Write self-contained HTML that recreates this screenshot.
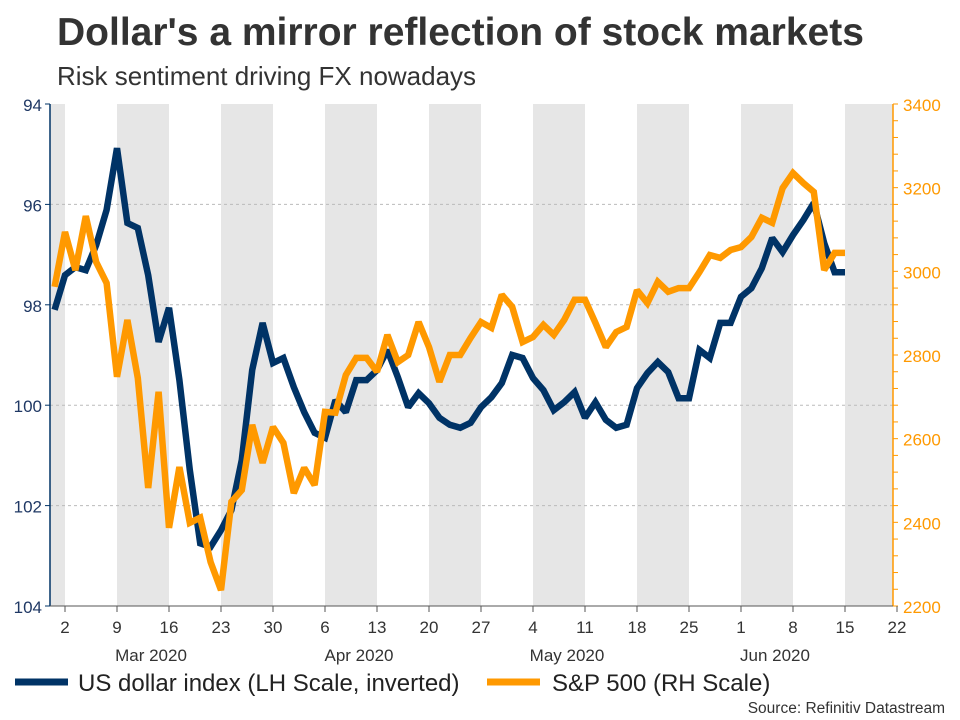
<!DOCTYPE html>
<html><head><meta charset="utf-8"><style>
body{margin:0;background:#fff;font-family:"Liberation Sans",Arial,sans-serif;}
svg{display:block}
</style></head><body>
<svg id="c" width="960" height="720" xmlns="http://www.w3.org/2000/svg">
<text x="57" y="45" font-size="39" font-weight="bold" fill="#333">Dollar's a mirror reflection of stock markets</text>
<text x="57" y="85" font-size="26" fill="#333">Risk sentiment driving FX nowadays</text>
<g id="bands"></g><g id="grid"></g><g id="axes"></g><g id="series"></g>
<g>
<line x1="15" y1="682" x2="68" y2="682" stroke="#003366" stroke-width="7"/>
<text x="78" y="691" font-size="24" fill="#222">US dollar index (LH Scale, inverted)</text>
<line x1="487" y1="682" x2="540" y2="682" stroke="#ff9900" stroke-width="7"/>
<text x="552" y="691" font-size="24" fill="#222">S&amp;P 500 (RH Scale)</text>
</g>
<text x="945" y="713" font-size="15.5" fill="#333" text-anchor="end">Source: Refinitiv Datastream</text>
</svg>
<script>
const usd=[98.10,97.41,97.25,97.31,96.81,96.11,94.88,96.37,96.47,97.41,98.74,98.06,99.50,101.29,102.75,102.82,102.49,102.09,101.09,99.30,98.36,99.16,99.06,99.64,100.14,100.55,100.65,99.90,100.14,99.50,99.50,99.30,98.90,99.44,100.04,99.76,99.96,100.25,100.39,100.45,100.35,100.04,99.84,99.56,99.00,99.06,99.46,99.70,100.10,99.94,99.74,100.25,99.94,100.29,100.45,100.39,99.66,99.36,99.14,99.34,99.86,99.86,98.90,99.06,98.36,98.36,97.84,97.67,97.27,96.67,96.95,96.61,96.31,95.97,96.77,97.35,97.35];
const sp=[2963,3094,3003,3132,3022,2972,2748,2884,2745,2482,2712,2387,2532,2399,2411,2305,2238,2449,2477,2633,2542,2628,2590,2470,2530,2489,2664,2662,2752,2793,2793,2760,2848,2783,2800,2879,2819,2736,2800,2800,2841,2879,2865,2944,2915,2831,2843,2872,2848,2884,2932,2932,2877,2819,2855,2867,2955,2924,2975,2951,2960,2960,2998,3039,3032,3051,3058,3082,3128,3116,3199,3235,3211,3190,3003,3044,3044];
const xTickLabels=["2","9","16","23","30","6","13","20","27","4","11","18","25","1","8","15","22"];
const monthLabels=["Mar 2020","Apr 2020","May 2020","Jun 2020"];
const monthTickIdx=[2,6,10,14];
const leftTicks=[94,96,98,100,102,104];
const rightTicks=[2200,2400,2600,2800,3000,3200,3400];
const NS="http://www.w3.org/2000/svg";
const L=50,R=893,T=104,B=606;
const x=t=>65+t*10.4;
const yL=v=>T+(v-94)/10*(B-T);
const yR=v=>B-(v-2200)/1200*(B-T);
function mk(tag,a,parent){const e=document.createElementNS(NS,tag);for(const k in a)e.setAttribute(k,a[k]);document.getElementById(parent).appendChild(e);return e;}
let b=mk('rect',{x:L,y:T,width:x(0)-L,height:B-T,fill:'#e6e6e6'},'bands');


for(let w=1;w<16;w+=2){const x1=x(w*5),x2=Math.min(x(w*5+5),R);
 const r=mk('rect',{x:x1,y:T,width:x2-x1,height:B-T,fill:'#e6e6e6'},'bands');
 
 }
leftTicks.forEach(v=>{const y=yL(v);
 if(v>94&&v<104){const g=mk('line',{x1:L,x2:R,y1:y,y2:y,stroke:'#bbb','stroke-dasharray':'3,3'},'grid');
 
 }
 mk('line',{x1:L-5,x2:L,y1:y,y2:y,stroke:'#003366'},'axes');
 const t=mk('text',{x:42,y:y+7,'font-size':17,fill:'#1f3864','text-anchor':'end'},'axes');t.textContent=v;
 
 });
rightTicks.forEach(v=>{const y=yR(v);
 const t=mk('text',{x:903,y:y+7,'font-size':17,fill:'#ff9900'},'axes');t.textContent=v;
 
 });
for(let v=2200;v<=3400;v+=40){mk('line',{x1:R,x2:R+5,y1:yR(v),y2:yR(v),stroke:'#ff9900'},'axes');}
let la=mk('line',{x1:L,x2:L,y1:T,y2:B,stroke:'#003366','stroke-width':1.5},'axes');


let ra=mk('line',{x1:R,x2:R,y1:T,y2:B,stroke:'#ff9900','stroke-width':1.5},'axes');


let xa=mk('line',{x1:L,x2:R,y1:B,y2:B,stroke:'#555'},'axes');


xTickLabels.forEach((s,i)=>{const xx=Math.min(x(i*5),R+4);
 mk('line',{x1:xx,x2:xx,y1:B,y2:B+6,stroke:'#555'},'axes');
 const t=mk('text',{x:xx,y:B+27,'font-size':17,fill:'#333','text-anchor':'middle'},'axes');t.textContent=s;
 
 });
monthLabels.forEach((s,i)=>{const t=mk('text',{x:x(monthTickIdx[i]*5-2.5)+8,y:B+55,'font-size':17,fill:'#333','text-anchor':'middle'},'axes');t.textContent=s;
 
 });
function line(arr,fy,col,name){const d=arr.map((v,i)=>(i?'L':'M')+x(i-1).toFixed(1)+' '+fy(v).toFixed(1)).join('');
 const p=mk('path',{d:d,fill:'none',stroke:col,'stroke-width':6.5,'stroke-linejoin':'miter','stroke-miterlimit':2},'series');
 
 }
line(usd,yL,'#003366','usd-index-line');
line(sp,yR,'#ff9900','sp500-line');
</script>
</body></html>
